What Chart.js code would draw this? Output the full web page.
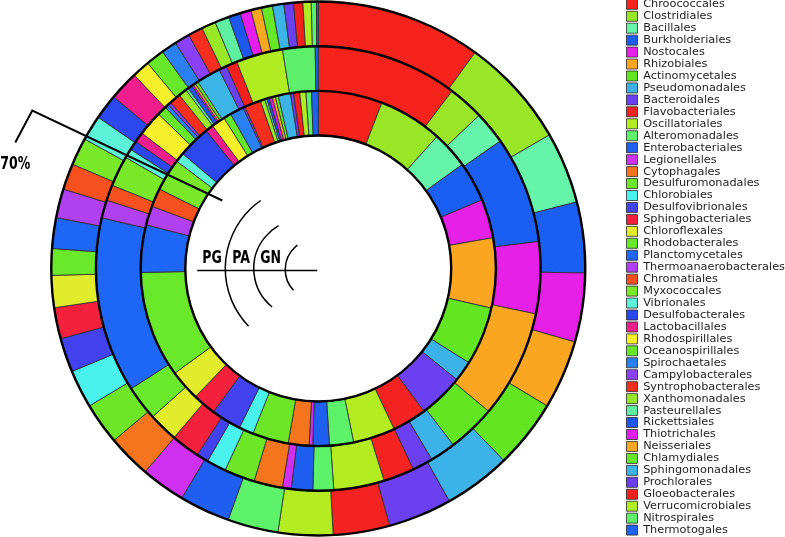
<!DOCTYPE html>
<html>
<head>
<meta charset="utf-8">
<script src="https://cdn.jsdelivr.net/npm/chart.js@4.4.1/dist/chart.umd.min.js"></script>
<style>
  html, body { margin: 0; padding: 0; background: #fff; overflow: hidden; }
  #wrap { position: absolute; left: 0; top: -2px; width: 785px; height: 541px; }
</style>
</head>
<body>
<div id="wrap"><canvas id="ringChart"></canvas></div>
<script>
var orders = [
    'Chroococcales', 'Clostridiales', 'Bacillales', 'Burkholderiales', 'Nostocales',
    'Rhizobiales', 'Actinomycetales', 'Pseudomonadales', 'Bacteroidales', 'Flavobacteriales',
    'Oscillatoriales', 'Alteromonadales', 'Enterobacteriales', 'Legionellales', 'Cytophagales',
    'Desulfuromonadales', 'Chlorobiales', 'Desulfovibrionales', 'Sphingobacteriales', 'Chloroflexales',
    'Rhodobacterales', 'Planctomycetales', 'Thermoanaerobacterales', 'Chromatiales', 'Myxococcales',
    'Vibrionales', 'Desulfobacterales', 'Lactobacillales', 'Rhodospirillales', 'Oceanospirillales',
    'Spirochaetales', 'Campylobacterales', 'Syntrophobacterales', 'Xanthomonadales', 'Pasteurellales',
    'Rickettsiales', 'Thiotrichales', 'Neisseriales', 'Chlamydiales', 'Sphingomonadales',
    'Prochlorales', 'Gloeobacterales', 'Verrucomicrobiales', 'Nitrospirales', 'Thermotogales'
];

var orderColors = [
    '#f5231c', '#98e626', '#66f5a8', '#1a5ef2', '#e620e6',
    '#fba620', '#62e622', '#3cb2e8', '#6a40f0', '#f52222',
    '#b4ec22', '#5ef26a', '#1e5ef0', '#d030f0', '#f5741e',
    '#6ee628', '#4af2ee', '#4242f0', '#f5203c', '#e2ec2a',
    '#6ae82a', '#1e66f5', '#b040f0', '#f5501e', '#78e828',
    '#5cf2d8', '#2a48ee', '#f01e8c', '#f5f02a', '#66e828',
    '#2a80f0', '#8a40f5', '#f52e1e', '#98e828', '#5ef0a0',
    '#1e56f0', '#e41ef0', '#f5a81e', '#66e826', '#3cb4e6',
    '#6a40f0', '#f5201e', '#b0ec22', '#5ef06a', '#1e62f0'
];

// percent of each ring, clockwise from 12 o'clock, same order as the legend
var pgValues = [
    10.0, 6.67, 4.33, 4.28, 4.17, 4.17, 4.17, 4.06, 3.86, 3.42,
    3.31, 3.06, 3.06, 2.69, 2.64, 2.53, 2.31, 2.06, 1.89, 1.94,
    1.61, 1.86, 1.75, 1.58, 1.67, 1.53, 1.53, 1.78, 1.08, 1.11,
    0.94, 0.92, 0.89, 0.86, 0.86, 0.72, 0.67, 0.64, 0.67, 0.69,
    0.58, 0.56, 0.50, 0.31, 0.11
];
var paValues = [
    10.28, 2.61, 2.39, 7.78, 5.22, 7.83, 3.50, 1.86, 1.50, 2.25,
    3.67, 1.50, 1.56, 0.64, 2.08, 2.22, 1.42, 0.86, 2.08, 2.14,
    2.53, 12.75, 1.31, 1.14, 2.22, 0.67, 0.67, 0.75, 1.81, 0.69,
    0.28, 0.22, 0.83, 0.61, 0.19, 0.31, 0.14, 0.17, 0.22, 1.75,
    0.58, 0.81, 3.39, 2.36, 0.22
];
var gnValues = [
    5.83, 5.83, 3.39, 3.64, 3.53, 6.36, 5.31, 1.86, 4.11, 3.11,
    3.83, 2.19, 1.50, 0.33, 1.89, 3.28, 1.33, 2.72, 2.11, 2.81,
    9.67, 4.31, 1.75, 1.69, 2.94, 0.86, 2.94, 0.72, 1.25, 0.69,
    1.25, 0.17, 1.50, 0.42, 0.19, 0.22, 0.28, 0.28, 0.28, 1.11,
    0.28, 0.56, 0.56, 0.50, 0.61
];

var ringNames = ['PG', 'PA', 'GN'];
var markText = '70%';

// narrow bold text like the original notes
function narrowText(ctx, text, x, y) {
    ctx.save();
    ctx.translate(x, y);
    ctx.scale(0.82, 1);
    ctx.fillText(text, 0, 0);
    ctx.restore();
}

// thick black circles between rings, plus the hand drawn notes
var ringNotes = {
    id: 'ringNotes',
    afterDatasetsDraw: function (chart) {
        var ctx = chart.ctx;
        var metas = chart.getSortedVisibleDatasetMetas();
        var a0 = metas[0].data[0];
        var cx = a0.x, cy = a0.y;

        ctx.save();
        ctx.strokeStyle = '#000';
        ctx.lineWidth = 2.4;
        metas.forEach(function (m) {
            ctx.beginPath();
            ctx.arc(cx, cy, m.data[0].outerRadius, 0, Math.PI * 2);
            ctx.stroke();
        });
        var last = metas[metas.length - 1].data[0];
        ctx.beginPath();
        ctx.arc(cx, cy, last.innerRadius, 0, Math.PI * 2);
        ctx.stroke();

        // 70% pointer
        ctx.lineWidth = 2;
        ctx.lineJoin = 'miter';
        ctx.beginPath();
        ctx.moveTo(cx - 303, cy - 126);
        ctx.lineTo(cx - 286, cy - 158);
        ctx.lineTo(cx - 96, cy - 68);
        ctx.stroke();

        ctx.fillStyle = '#000';
        ctx.textBaseline = 'alphabetic';
        ctx.textAlign = 'left';
        ctx.font = 'bold 17px "DejaVu Sans Condensed", "DejaVu Sans", sans-serif';
        narrowText(ctx, markText, cx - 318, cy - 100);

        // ring key in the hole
        ctx.lineWidth = 1.3;
        ctx.beginPath();
        ctx.moveTo(cx - 121, cy + 2);
        ctx.lineTo(cx - 1, cy + 2);
        ctx.stroke();

        var deg = Math.PI / 180;
        ctx.lineWidth = 1.5;
        ctx.beginPath();
        ctx.arc(cx - 10, cy, 83, 136 * deg, 235 * deg);
        ctx.stroke();
        ctx.beginPath();
        ctx.arc(cx - 15, cy, 49.5, 129 * deg, 240 * deg);
        ctx.stroke();
        ctx.beginPath();
        ctx.arc(cx - 2.6, cy + 1, 30.4, 137 * deg, 233 * deg);
        ctx.stroke();

        narrowText(ctx, ringNames[0], cx - 116, cy - 6);
        narrowText(ctx, ringNames[1], cx - 86, cy - 6);
        narrowText(ctx, ringNames[2], cx - 58, cy - 6);
        ctx.restore();
    }
};

var ctx = document.getElementById('ringChart').getContext('2d');
var chart = new Chart(ctx, {
    type: 'doughnut',
    data: {
        labels: orders,
        datasets: [
            { label: ringNames[0], data: pgValues, backgroundColor: orderColors },
            { label: ringNames[1], data: paValues, backgroundColor: orderColors },
            { label: ringNames[2], data: gnValues, backgroundColor: orderColors }
        ]
    },
    options: {
        responsive: true,
        maintainAspectRatio: false,
        animation: false,
        events: [],
        radius: 267,
        cutout: '49.8%',
        borderWidth: 0.8,
        borderColor: '#2a2a2a',
        layout: { padding: { left: 10.7, right: -10 } },
        plugins: {
            legend: {
                position: 'right',
                align: 'start',
                labels: {
                    boxWidth: 11,
                    boxHeight: 10,
                    padding: 0.65,
                    color: '#1e1e1e',
                    font: { family: 'DejaVu Sans', size: 11.3 }
                }
            },
            tooltip: { enabled: false }
        }
    },
    plugins: [ringNotes]
});
</script>
</body>
</html>
